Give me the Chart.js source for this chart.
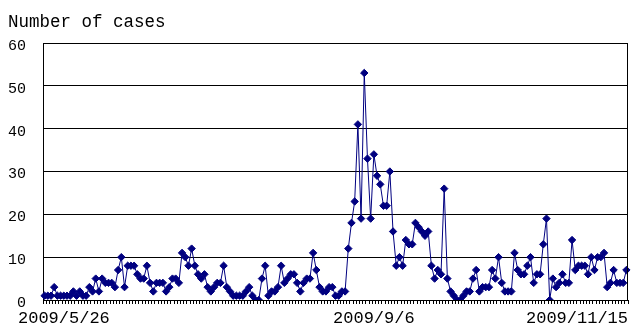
<!DOCTYPE html>
<html>
<head>
<meta charset="utf-8">
<script src="https://cdn.jsdelivr.net/npm/chart.js@4.4.0/dist/chart.umd.min.js"></script>
<style>
  html, body { margin: 0; padding: 0; background: #fff; }
</style>
</head>
<body>
<canvas id="chart" width="636" height="329"></canvas>
<script>
// =====================================================
// DATA - daily number of cases
// =====================================================

const cases = [
  // 5/26 - 6/14
  1, 1, 1, 3, 1, 1, 1, 1, 1, 2,   1, 2, 1, 1, 3, 2, 5, 2, 5, 4,
  // 6/15 - 7/4
  4, 4, 3, 7, 10, 3, 8, 8, 8, 6,  5, 5, 8, 4, 2, 4, 4, 4, 2, 3,
  // 7/5 - 7/24
  5, 5, 4, 11, 10, 8, 12, 8, 6, 5, 6, 3, 2, 3, 4, 4, 8, 3, 2, 1,
  // 7/25 - 8/13
  1, 1, 1, 2, 3, 1, 0, 0, 5, 8,   1, 2, 2, 3, 8, 4, 5, 6, 6, 4,
  // 8/14 - 9/2
  2, 4, 5, 5, 11, 7, 3, 2, 2, 3,  3, 1, 1, 2, 2, 12, 18, 23, 41, 19,
  // 9/3 - 9/22
  53, 33, 19, 34, 29, 27, 22, 22, 30, 16, 8, 10, 8, 14, 13, 13, 18, 17, 16, 15,
  // 9/23 - 10/12
  16, 8, 5, 7, 6, 26, 5, 2, 1, 0,  0, 1, 2, 2, 5, 7, 2, 3, 3, 3,
  // 10/13 - 11/1
  7, 5, 10, 4, 2, 2, 2, 11, 7, 6,  6, 8, 10, 4, 6, 6, 13, 19, 0, 5,
  // 11/2 - 11/21
  3, 4, 6, 4, 4, 14, 7, 8, 8, 8,  6, 10, 7, 10, 10, 11, 3, 4, 7, 4,
  // 11/22 - 11/24
  4, 4, 7
];

// one category per day, starting 2009/5/26
const startDay = [2009, 5, 26];
const dates = [];
for (let i = 0; i < cases.length; i++) {
  const d = new Date(startDay[0], startDay[1] - 1, startDay[2] + i);
  dates.push(`${d.getFullYear()}/${d.getMonth() + 1}/${d.getDate()}`);
}

// only these dates get a label under the axis
const xTickLabels = ['2009/5/26', '2009/9/6', '2009/11/15'];
const yTitle = 'Number of cases';

const navy = '#000080';


// =====================================================
// PLUGIN - right frame edge, axis title and date labels
// =====================================================

const frameAndLabels = {
  id: 'frameAndLabels',
  afterDraw(chart) {
    const { ctx, chartArea: a, scales: { x } } = chart;
    ctx.save();

    // right edge of the plot frame
    ctx.strokeStyle = '#000';
    ctx.lineWidth = 1;
    ctx.beginPath();
    ctx.moveTo(Math.round(a.right) - 0.5, a.top);
    ctx.lineTo(Math.round(a.right) - 0.5, a.bottom);
    ctx.stroke();

    // y axis title, top left
    ctx.fillStyle = '#000';
    ctx.font = '17.5px "Liberation Mono"';
    ctx.textAlign = 'left';
    ctx.textBaseline = 'alphabetic';
    ctx.fillText(yTitle, 8, 27);

    // date labels, kept inside the picture like the original
    ctx.font = '17px "Liberation Mono"';
    ctx.textAlign = 'center';
    ctx.textBaseline = 'middle';
    xTickLabels.forEach(lbl => {
      const idx = dates.indexOf(lbl);
      const w = ctx.measureText(lbl).width;
      let cx = x.getPixelForValue(idx);
      cx = Math.max(cx, 18 + w / 2);
      cx = Math.min(cx, a.right - w / 2);
      ctx.fillText(lbl, cx, 318);
    });

    ctx.restore();
  }
};


// =====================================================
// CHART
// =====================================================

new Chart(document.getElementById('chart'), {
  type: 'line',
  data: {
    labels: dates,
    datasets: [{
      data: cases,
      borderColor: navy,
      borderWidth: 1,
      tension: 0,
      pointStyle: 'rectRot',
      pointRadius: 3.7,
      pointBackgroundColor: navy,
      pointBorderColor: navy,
      pointBorderWidth: 1
    }]
  },
  options: {
    responsive: false,
    animation: false,
    layout: { padding: { top: 43, right: 8, left: 0, bottom: 0 } },
    plugins: {
      legend: { display: false },
      tooltip: { enabled: false }
    },
    scales: {
      x: {
        type: 'category',
        offset: true,
        grid: {
          display: true,
          offset: true,
          drawOnChartArea: false,
          drawTicks: true,
          tickLength: 4,
          color: '#000',
          lineWidth: 1
        },
        border: { display: true, color: '#000', width: 1 },
        ticks: { display: false, autoSkip: false },
        afterFit: s => { s.height = 29; }
      },
      y: {
        min: 0,
        max: 60,
        ticks: {
          stepSize: 10,
          padding: 17,
          labelOffset: 3,
          color: '#000',
          font: { family: 'Liberation Mono', size: 15 }
        },
        grid: { color: '#000', lineWidth: 1, drawTicks: false },
        border: { display: true, color: '#000', width: 1 },
        afterFit: s => { s.width = 43; }
      }
    }
  },
  plugins: [frameAndLabels]
});
</script>
</body>
</html>
